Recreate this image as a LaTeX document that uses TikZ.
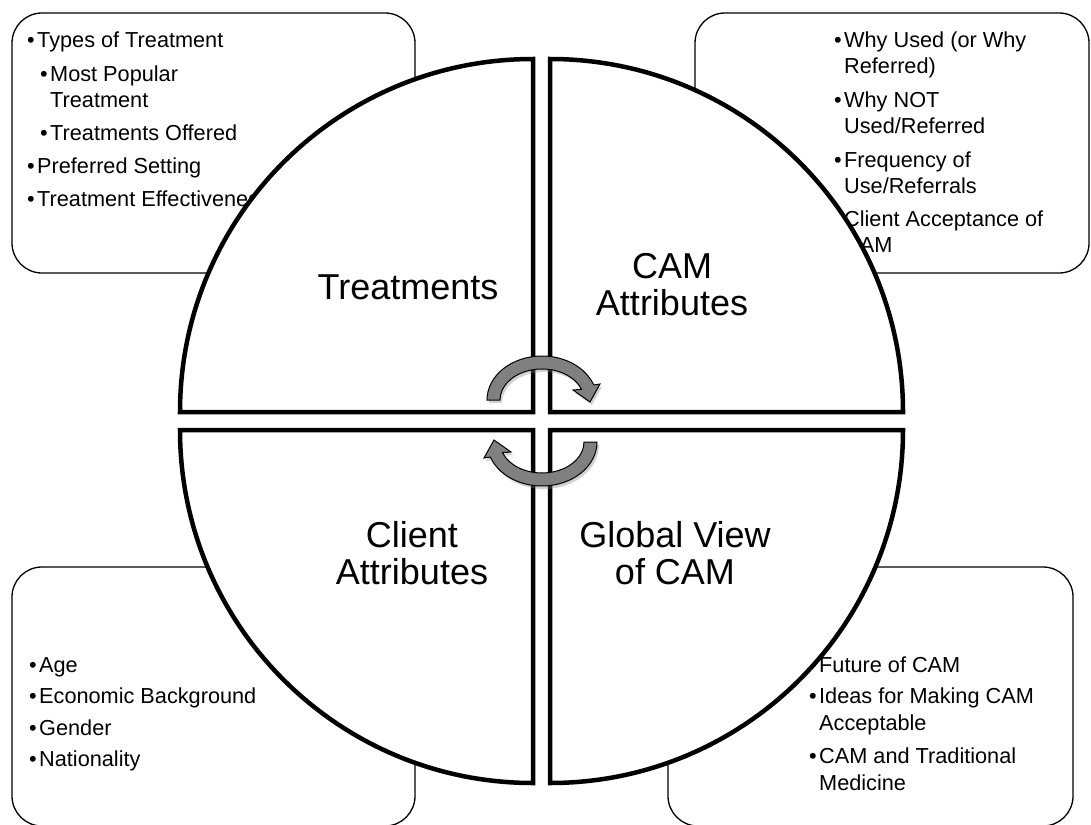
\documentclass[tikz,border=0pt]{standalone}
\usepackage{fontspec}
\setmainfont{Liberation Sans}
\usepackage{tikz}
\usetikzlibrary{shadows}

\newcommand{\bul}{\makebox[10pt][l]{\textbullet}}

\begin{document}
\begin{tikzpicture}[x=1pt, y=-1pt,
    txt/.style={anchor=base west, inner sep=0pt, font=\fontsize{21.7pt}{26pt}\selectfont},
    lbl/.style={align=center, inner sep=0pt, font=\fontsize{36pt}{37pt}\selectfont},
    listbox/.style={draw, line width=1.3pt, rounded corners=30pt},
    quarter/.style={draw, fill=white, line width=4.5pt},
    turn/.style={draw, line width=1pt, fill=black!50,
      drop shadow={shadow xshift=2pt, shadow yshift=-3pt, opacity=0.35}}]
    \useasboundingbox (0,0) rectangle (1091,824);
    \fill[white] (0,0) rectangle (1091,824);

    % Draw the list boxes
    \draw[listbox] (12,13) rectangle (415,273);
    \draw[listbox] (695,13) rectangle (1089,273);
    \draw[listbox] (12,567) rectangle (415,826);
    \draw[listbox] (668,567) rectangle (1073,826);

    % Lists, one node per line
    \foreach \x/\y/\t [count=\i] in {27/48/{\bul Types of Treatment},
        40/82/{\bul Most Popular}, 50/107/{Treatment},
        40/140/{\bul Treatments Offered}, 27/173/{\bul Preferred Setting},
        27/206/{\bul Treatment Effectiveness}}
      \node[txt] (tl\i) at (\x,\y) {\t};
    \foreach \x/\y/\t [count=\i] in {834/48/{\bul Why Used (or Why},
        844/74/{Referred)}, 834/107/{\bul Why NOT}, 844/133/{Used/Referred},
        834/167/{\bul Frequency of}, 844/193/{Use/Referrals},
        834/226/{\bul Client Acceptance of}, 844/252/{CAM}}
      \node[txt] (tr\i) at (\x,\y) {\t};
    \foreach \x/\y/\t [count=\i] in {29/672/{\bul Age},
        29/703/{\bul Economic Background}, 29/735/{\bul Gender},
        29/766/{\bul Nationality}}
      \node[txt] (bl\i) at (\x,\y) {\t};
    \foreach \x/\y/\t [count=\i] in {809/672/{\bul Future of CAM},
        809/703/{\bul Ideas for Making CAM}, 819/730/{Acceptable},
        809/763/{\bul CAM and Traditional}, 819/790/{Medicine}}
      \node[txt] (br\i) at (\x,\y) {\t};

    % Draw the four quarters
    \draw[quarter] (533,412) -- (180,412) arc[start angle=180, end angle=270, radius=353] -- cycle;
    \draw[quarter] (550,412) -- (550,59) arc[start angle=270, end angle=360, radius=353] -- cycle;
    \draw[quarter] (550,430) -- (903,430) arc[start angle=0, end angle=90, radius=353] -- cycle;
    \draw[quarter] (533,430) -- (533,783) arc[start angle=90, end angle=180, radius=353] -- cycle;

    \node[lbl] (treat) at (408,287) {Treatments};
    \node[lbl] (camattr) at (672,285) {CAM\\Attributes};
    \node[lbl] (client) at (412,553) {Client\\Attributes};
    \node[lbl] (global) at (675,553) {Global View\\of CAM};

    % Curved arrows in the middle
    \begin{scope}[shift={(542,400)}]
      \path[turn] (-55,0)
        arc[start angle=180, end angle=340, x radius=55, y radius=44]
        -- (58,-16) -- (48,2) -- (31,-10) -- (340:42 and 31)
        arc[start angle=340, end angle=180, x radius=42, y radius=31] -- cycle;
    \end{scope}
    \begin{scope}[shift={(542,442)}]
      \path[turn] (55,0)
        arc[start angle=0, end angle=160, x radius=55, y radius=44]
        -- (-58,16) -- (-48,-2) -- (-31,10) -- (160:42 and 31)
        arc[start angle=160, end angle=0, x radius=42, y radius=31] -- cycle;
    \end{scope}
\end{tikzpicture}
\end{document}
